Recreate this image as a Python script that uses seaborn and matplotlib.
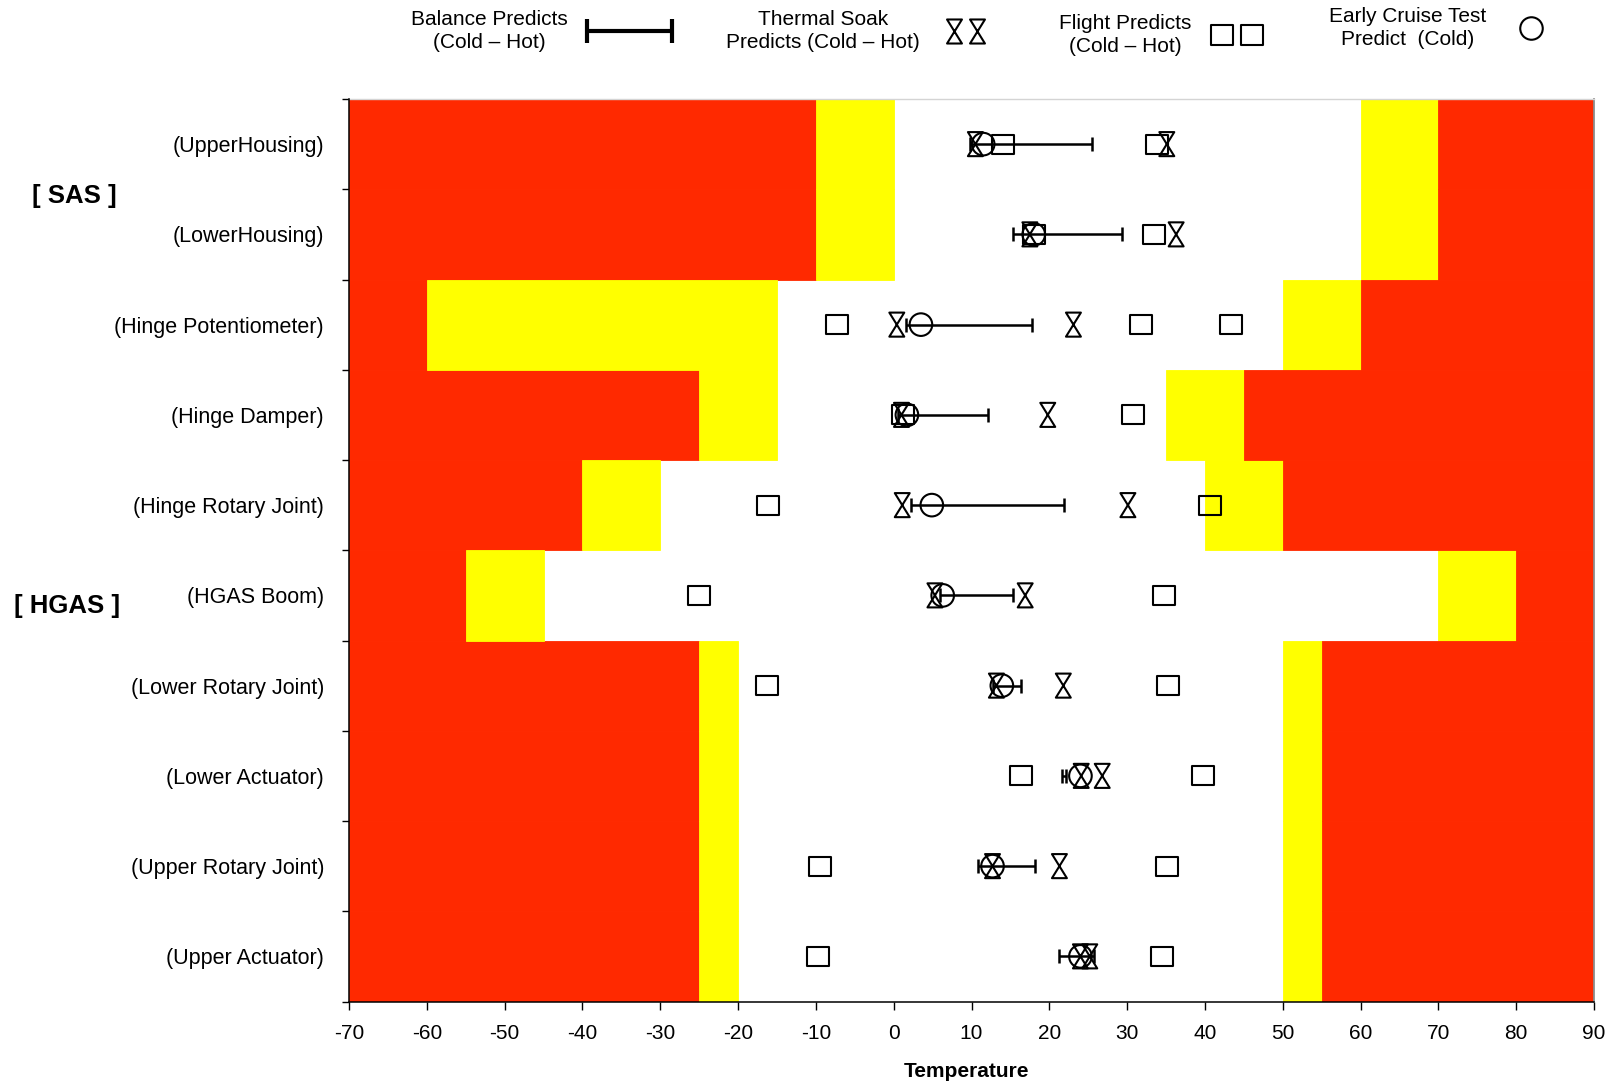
import numpy as np
import pandas as pd
import matplotlib
matplotlib.use("Agg")
import matplotlib.pyplot as plt
from matplotlib.path import Path
from matplotlib.lines import Line2D
from matplotlib.legend_handler import HandlerLine2D
import seaborn as sns

nan = np.nan

components = [
    "(UpperHousing)", "(LowerHousing)", "(Hinge Potentiometer)", "(Hinge Damper)",
    "(Hinge Rotary Joint)", "(HGAS Boom)", "(Lower Rotary Joint)", "(Lower Actuator)",
    "(Upper Rotary Joint)", "(Upper Actuator)",
]

# Allowable-temperature zone edges per component (deg C)
cold_red_edge = [-10, -10, -60, -25, -40, -55, -25, -25, -25, -25]
cold_yellow_edge = [0, 0, -15, -15, -30, -45, -20, -20, -20, -20]
hot_yellow_edge = [60, 60, 50, 35, 40, 70, 50, 50, 50, 50]
hot_red_edge = [70, 70, 60, 45, 50, 80, 55, 55, 55, 55]

# Predictions (deg C)
balance_cold = [9.8, 15.3, 1.6, 0.6, 2.2, 6.0, 12.8, 21.6, 10.8, 21.3]
balance_hot = [25.5, 29.3, 17.8, 12.1, 21.9, 15.3, 16.3, 22.2, 18.1, 25.8]
soak_cold = [10.5, 17.5, 0.4, 1.0, 1.1, 5.3, 13.2, 24.1, 12.7, 24.0]
soak_hot = [35.1, 36.3, 23.1, 19.8, 30.1, 16.9, 21.8, 26.8, 21.3, 25.2]
flight_cold = [14.1, 18.0, -7.3, 1.2, -16.2, -25.0, -16.3, 16.3, -9.5, -9.7]
flight_hot = [33.9, 33.4, 31.8, 30.8, 40.7, 34.8, 35.2, 39.7, 35.1, 34.5]
flight_extra = [nan, nan, 43.3, nan, nan, nan, nan, nan, nan, nan]
cruise_cold = [11.5, 18.0, 3.5, 1.7, 4.9, 6.3, 13.9, 24.0, 12.7, 24.0]

x_ticks = list(range(-70, 91, 10))
x_min, x_max = -70, 90

RED = "#FF2900"
YELLOW = "#FFFF00"

sns.set_theme(style="ticks")
plt.rcParams["font.family"] = ["Liberation Sans", "DejaVu Sans"]
plt.rcParams.update({"text.color": "black", "axes.labelcolor": "black",
                     "xtick.color": "black", "ytick.color": "black"})

W, H = 1610, 1083
fig = plt.figure(figsize=(W / 100, H / 100), dpi=100)
ax = fig.add_axes([349 / W, 1 - 1001.5 / H, (1594 - 349) / W, (1001.5 - 99) / H])

n = len(components)
rows = np.arange(n) + 0.5

# Temperature zones as stacked horizontal bars
cr = np.array(cold_red_edge, float)
cy = np.array(cold_yellow_edge, float)
hy = np.array(hot_yellow_edge, float)
hr = np.array(hot_red_edge, float)
segments = [
    (np.full(n, x_min), cr - x_min, RED),
    (cr, cy - cr, YELLOW),
    (hy, hr - hy, YELLOW),
    (hr, x_max - hr, RED),
]
for left, width, col in segments:
    ax.barh(rows, width, left=left, height=1.0, color=col, edgecolor=col,
            linewidth=0.6, zorder=1)

# Balance predictions: cold-to-hot range with end caps
bc = np.array(balance_cold)
bh = np.array(balance_hot)
ax.errorbar(bc, rows, xerr=[np.zeros(n), bh - bc], fmt="none", ecolor="black",
            elinewidth=1.8, capsize=5, capthick=1.8, zorder=3)

hourglass = Path([(-0.62, 1), (0.62, 1), (-0.62, -1), (0.62, -1), (-0.62, 1)],
                 [Path.MOVETO, Path.LINETO, Path.LINETO, Path.LINETO, Path.CLOSEPOLY])
square = Path([(-1, -0.87), (1, -0.87), (1, 0.87), (-1, 0.87), (-1, -0.87)],
              [Path.MOVETO, Path.LINETO, Path.LINETO, Path.LINETO, Path.CLOSEPOLY])

scatter_kw = dict(color="black", facecolor="none", edgecolor="black",
                  linewidth=1.5, legend=False, ax=ax, zorder=4)

for vals in (soak_cold, soak_hot):
    sns.scatterplot(x=vals, y=rows, marker=hourglass, s=300, **scatter_kw)
for vals in (flight_cold, flight_hot, flight_extra):
    sns.scatterplot(x=vals, y=rows, marker=square, s=250, **scatter_kw)
sns.scatterplot(x=cruise_cold, y=rows, marker="o", s=265, **scatter_kw)

ax.set_xlim(x_min, x_max)
ax.set_ylim(n, 0)
ax.set_xticks(x_ticks)
ax.set_xticklabels([str(t) for t in x_ticks], fontsize=15)
ax.set_yticks(np.arange(n + 1))
ax.set_yticklabels([])
ax.set_yticks(rows, minor=True)
ax.set_yticklabels(components, minor=True, fontsize=15.5)
ax.tick_params(axis="y", which="major", length=5, width=1, direction="out", color="black")
ax.tick_params(axis="y", which="minor", length=0, pad=18)
ax.tick_params(axis="x", which="major", length=5.5, width=1, direction="out",
               color="black", pad=11)
ax.set_xlabel("Temperature", fontsize=15, fontweight="bold")
ax.xaxis.set_label_coords(0.496, -0.067)
ax.xaxis.label.set_va("top")
ax.set_ylabel("")

for side in ("left", "bottom"):
    ax.spines[side].set_color("black")
    ax.spines[side].set_linewidth(1.1)
    ax.spines[side].set_zorder(5)
ax.spines["top"].set_color("#d4d4d4")
ax.spines["top"].set_linewidth(1.0)
ax.spines["right"].set_color("#8c8c8c")
ax.spines["right"].set_linewidth(1.3)

# Subsystem group labels
fig.text(74.5 / W, 1 - 196 / H, "[ SAS ]", ha="center", va="center",
         fontsize=18.5, fontweight="bold")
fig.text(67 / W, 1 - 606 / H, "[ HGAS ]", ha="center", va="center",
         fontsize=18.5, fontweight="bold")

# Key across the top
fs = 15
entries = [
    (Line2D([], [], color="black", lw=3, marker="|", markersize=17, markeredgewidth=3),
     "Balance Predicts\n(Cold \u2013 Hot)", 2, 4.1, 0.92, 411, 31),
    (Line2D([], [], ls="none", marker=hourglass, markersize=17.3, markerfacecolor="none",
            markeredgecolor="black", markeredgewidth=1.5),
     "Thermal Soak\nPredicts (Cold \u2013 Hot)", 2, 1.08, 1.65, 726, 31),
    (Line2D([], [], ls="none", marker=square, markersize=15.8, markerfacecolor="none",
            markeredgecolor="black", markeredgewidth=1.5),
     "Flight Predicts\n(Cold \u2013 Hot)", 2, 1.47, 1.45, 1059, 35),
    (Line2D([], [], ls="none", marker="o", markersize=16.2, markerfacecolor="none",
            markeredgecolor="black", markeredgewidth=1.5),
     "Early Cruise Test\nPredict  (Cold)", 1, 1.0, 1.65, 1329, 28),
]
for handle, label, npts, hlen, hpad, xl, yc in entries:
    leg = fig.legend(handles=[handle], labels=[label], loc="center left",
                     bbox_to_anchor=(xl / W, 1 - yc / H), frameon=False,
                     markerfirst=False, fontsize=fs, handlelength=hlen,
                     handletextpad=hpad, borderpad=0, borderaxespad=0,
                     handler_map={handle: HandlerLine2D(numpoints=npts, marker_pad=0)})
    for t in leg.get_texts():
        t.set_multialignment("center")
        t.set_linespacing(1.25)

fig.savefig("out.png", dpi=100, facecolor="white")
